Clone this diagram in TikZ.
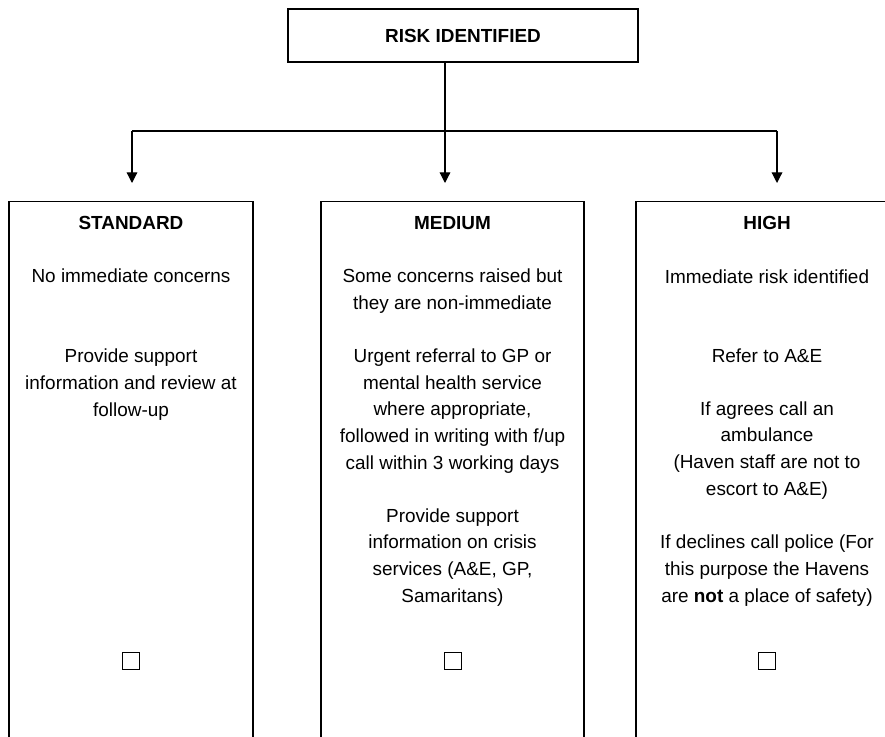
\documentclass[tikz,border=0pt]{standalone}
\usepackage{fontspec}
\setmainfont{Liberation Sans}
\usepackage{tikz}
\usetikzlibrary{shapes,arrows.meta,positioning,calc}

\tikzset{
  riskbox/.style={draw, line width=1.1pt, anchor=north, minimum height=420pt},
  headbox/.style={draw, line width=1.1pt, minimum width=262.5pt, minimum height=39.75pt, font=\bfseries\fontsize{14.2}{19.9}\selectfont},
  boxtitle/.style={anchor=base, inner sep=0pt, font=\bfseries\fontsize{14.2}{19.9}\selectfont},
  boxtext/.style={anchor=base, inner sep=0pt, align=center, font=\fontsize{14.2}{19.9}\selectfont},
  tickbox/.style={draw, line width=0.9pt, minimum width=12.5pt, minimum height=13pt, inner sep=0pt},
  link/.style={line width=0.9pt},
  linkarrow/.style={line width=0.9pt, -{Triangle[length=8pt,width=8pt]}, shorten >=13.5pt}
}

\begin{document}
\begin{tikzpicture}[x=0.75pt, y=-0.75pt]
  \useasboundingbox (0,0) rectangle (885,736);
  \clip (0,0) rectangle (885,736);

  \node[headbox] (risk) at (463,35.5) {RISK IDENTIFIED};

  \node[riskbox, minimum width=183pt] (std) at (131,201) {};
  \node[riskbox, minimum width=197.25pt] (med) at (452.5,201) {};
  \node[riskbox, minimum width=196.5pt] (high) at (767,201) {};

  % connectors
  \coordinate (fork) at (445,131);
  \coordinate (forkL) at (132,131);
  \coordinate (forkR) at (777,131);
  \draw[link] (risk.south -| fork) -- (fork);
  \draw[link] (forkL) -- (forkR);
  \draw[linkarrow] (forkL) -- (forkL |- std.north);
  \draw[linkarrow] (fork) -- (fork |- med.north);
  \draw[linkarrow] (forkR) -- (forkR |- high.north);

  % standard (multi-line texts sit on the baseline of their last line)
  \node[boxtitle] (stdtitle) at (131,229) {STANDARD};
  \node[boxtext] (stdt1) at (131,282) {No immediate concerns};
  \node[boxtext] (stdt2) at (131,416) {Provide support\\information and review at\\follow-up};
  \node[tickbox] (stdtick) at (131,661) {};

  % medium
  \node[boxtitle] (medtitle) at (452.5,229) {MEDIUM};
  \node[boxtext] (medt1) at (452.5,309) {Some concerns raised but\\they are non-immediate};
  \node[boxtext] (medt2) at (452.5,469) {Urgent referral to GP or\\mental health service\\where appropriate,\\followed in writing with f/up\\call within 3 working days};
  \node[boxtext] (medt3) at (452.5,602) {Provide support\\information on crisis\\services (A\&E, GP,\\Samaritans)};
  \node[tickbox] (medtick) at (453,661) {};

  % high
  \node[boxtitle] (hightitle) at (767,229) {HIGH};
  \node[boxtext] (hight1) at (767,283) {Immediate risk identified};
  \node[boxtext] (hight2) at (767,362) {Refer to A\&E};
  \node[boxtext] (hight3) at (767,495) {If agrees call an\\ambulance\\(Haven staff are not to\\escort to A\&E)};
  \node[boxtext] (hight4) at (767,602) {If declines call police (For\\this purpose the Havens\\are \textbf{not} a place of safety)};
  \node[tickbox] (hightick) at (767,661) {};
\end{tikzpicture}
\end{document}
